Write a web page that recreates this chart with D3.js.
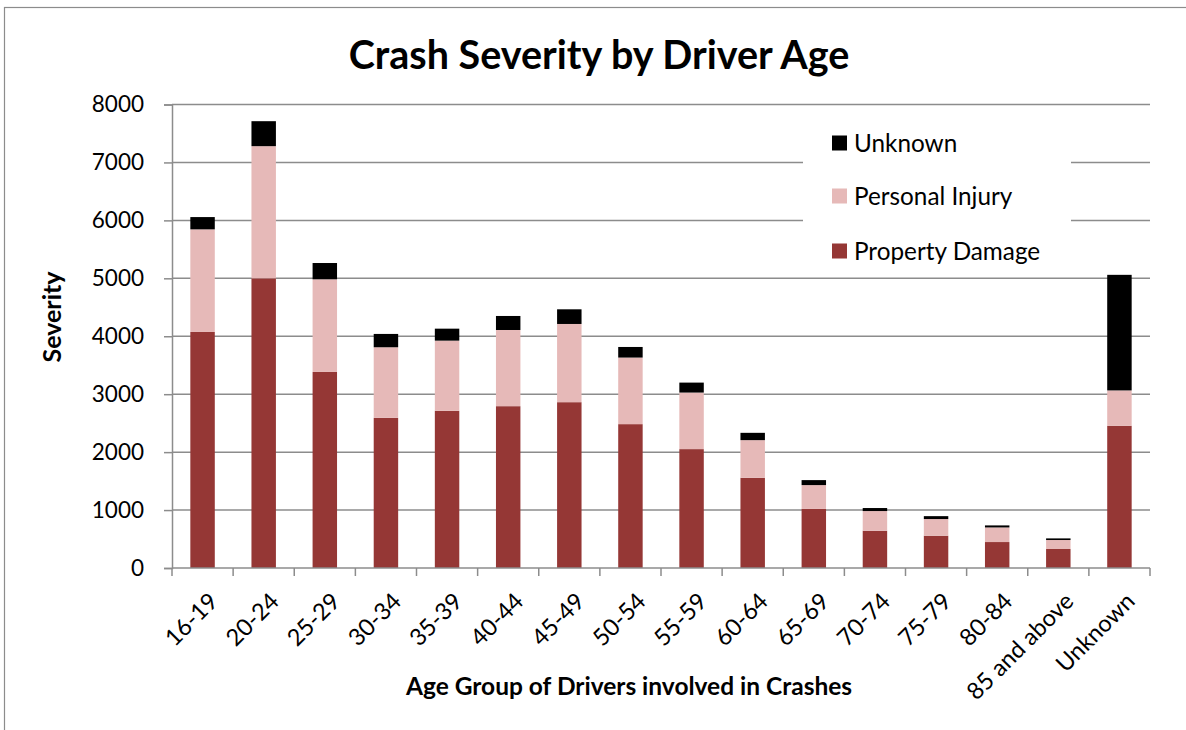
<!DOCTYPE html>
<html>
<head>
<meta charset="utf-8">
<script src="https://cdn.jsdelivr.net/npm/d3@7"></script>
<style>
  html, body { margin: 0; padding: 0; background: #fff; }
  svg { display: block; font-family: Lato, "Open Sans", sans-serif; }
</style>
</head>
<body>
<svg id="chart" width="1186" height="730"></svg>
<script>
const categories = ["16-19","20-24","25-29","30-34","35-39","40-44","45-49","50-54","55-59","60-64","65-69","70-74","75-79","80-84","85 and above","Unknown"];
const propertyDamage = [4074, 5000, 3384, 2591, 2713, 2793, 2862, 2483, 2052, 1557, 1020, 643, 557, 448, 328, 2455];
const personalInjury = [1771, 2281, 1599, 1219, 1211, 1315, 1350, 1149, 976, 650, 411, 340, 288, 252, 155, 610];
const unknownSev     = [212, 431, 281, 230, 207, 242, 253, 183, 172, 126, 86, 52, 50, 35, 28, 1995];
const seriesNames = ["Property Damage", "Personal Injury", "Unknown"];
const seriesColors = ["#953735", "#E6B9B8", "#000000"];
const yTicks = [0, 1000, 2000, 3000, 4000, 5000, 6000, 7000, 8000];

const svg = d3.select("#chart");
const plot = { left: 172, right: 1150, top: 104.5, bottom: 568 };
const gridColor = "#8c8c8c";

// outer chart border
svg.append("rect").attr("x", 4.5).attr("y", 7.5).attr("width", 1300).attr("height", 900)
  .attr("fill", "none").attr("stroke", "#8c8c8c").attr("stroke-width", 1.2);

const data = categories.map((c, i) => ({
  cat: c,
  "Property Damage": propertyDamage[i],
  "Personal Injury": personalInjury[i],
  "Unknown": unknownSev[i]
}));
const stacked = d3.stack().keys(seriesNames)(data);

const x = d3.scaleBand().domain(categories).range([plot.left, plot.right])
  .paddingInner(0.6).paddingOuter(0.3);
const y = d3.scaleLinear().domain([0, 8000]).range([plot.bottom, plot.top]);

// gridlines
svg.append("g").selectAll("line").data(yTicks.filter(d => d > 0)).join("line")
  .attr("x1", plot.left).attr("x2", plot.right)
  .attr("y1", d => y(d)).attr("y2", d => y(d))
  .attr("stroke", gridColor).attr("stroke-width", 1.5);

// legend background hiding gridlines
svg.append("rect").attr("x", 803).attr("y", 120).attr("width", 268).attr("height", 150).attr("fill", "#fff");

// bars
svg.append("g").selectAll("g").data(stacked).join("g")
  .attr("fill", (d, i) => seriesColors[i])
  .selectAll("rect").data(d => d).join("rect")
  .attr("x", d => x(d.data.cat))
  .attr("width", x.bandwidth())
  .attr("y", d => y(d[1]))
  .attr("height", d => y(d[0]) - y(d[1]));

// y axis
const yAxis = svg.append("g").attr("transform", `translate(${plot.left},0)`)
  .call(d3.axisLeft(y).tickValues(yTicks).tickSize(8).tickPadding(20).tickFormat(d3.format("d")));
yAxis.select(".domain").attr("stroke", gridColor).attr("stroke-width", 1.5);
yAxis.selectAll(".tick line").attr("stroke", gridColor).attr("stroke-width", 1.5);
yAxis.selectAll(".tick text").attr("font-size", 22.5).attr("font-family", "Lato, sans-serif").attr("fill", "#000");

// x axis with ticks at band boundaries
const xAxisG = svg.append("g").attr("transform", `translate(0,${plot.bottom})`);
xAxisG.append("line").attr("x1", plot.left).attr("x2", plot.right).attr("y1", 0).attr("y2", 0)
  .attr("stroke", gridColor).attr("stroke-width", 1.5);
const step = x.step();
const boundaries = d3.range(categories.length + 1).map(i => plot.left + i * step);
xAxisG.selectAll("line.tk").data(boundaries).join("line").attr("class", "tk")
  .attr("x1", d => d).attr("x2", d => d).attr("y1", 0).attr("y2", 8)
  .attr("stroke", gridColor).attr("stroke-width", 1.5);
xAxisG.selectAll("text").data(categories).join("text")
  .attr("transform", d => `translate(${x(d) + x.bandwidth() / 2 + 5},${23}) rotate(-45)`)
  .attr("text-anchor", "end").attr("dy", "0.71em")
  .attr("font-size", 23.5).attr("fill", "#000").text(d => d);

// title
svg.append("text").attr("x", 599).attr("y", 69).attr("text-anchor", "middle")
  .attr("font-size", 39.5).attr("font-weight", "bold").text("Crash Severity by Driver Age");

// axis titles
svg.append("text").attr("transform", "translate(61,317) rotate(-90)").attr("text-anchor", "middle")
  .attr("font-size", 25).attr("font-weight", "bold").text("Severity");
svg.append("text").attr("x", 629).attr("y", 695).attr("text-anchor", "middle")
  .attr("font-size", 24.5).attr("font-weight", "bold").text("Age Group of Drivers involved in Crashes");

// legend
const legendOrder = [2, 1, 0];
const legendY = [143, 196, 251];
const lg = svg.append("g");
legendOrder.forEach((si, k) => {
  lg.append("rect").attr("x", 832).attr("y", legendY[k] - 7.5).attr("width", 15).attr("height", 15)
    .attr("fill", seriesColors[si]);
  lg.append("text").attr("x", 854).attr("y", legendY[k]).attr("dy", "0.36em")
    .attr("font-size", 24.3).attr("fill", "#000").text(seriesNames[si]);
});
</script>
</body>
</html>
